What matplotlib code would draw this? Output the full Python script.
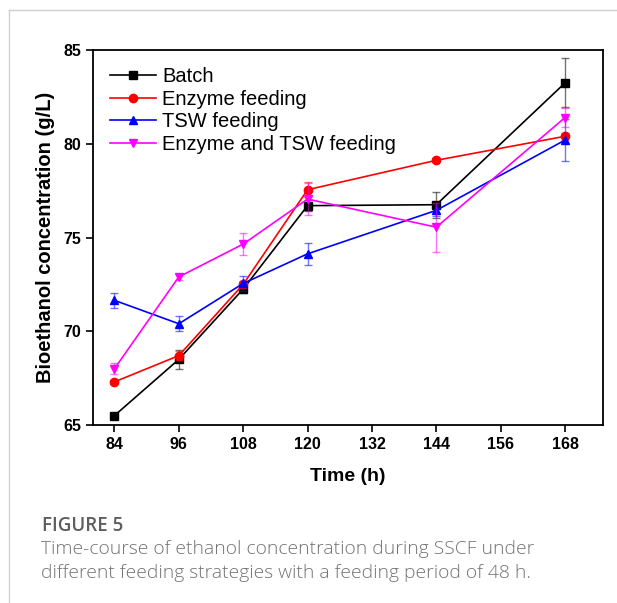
import matplotlib.pyplot as plt
from matplotlib.lines import Line2D

# datos
time = [84, 96, 108, 120, 144, 168]

batch = [65.5, 68.5, 72.25, 76.7, 76.75, 83.25]
batch_err = [0.15, 0.5, 0.2, 0.3, 0.7, 1.3]

enzyme = [67.3, 68.7, 72.5, 77.55, 79.12, 80.4]
enzyme_err = [0.1, 0.25, 0.2, 0.4, 0.1, 0.2]

tsw = [71.65, 70.4, 72.55, 74.13, 76.45, 80.2]
tsw_err = [0.4, 0.4, 0.4, 0.6, 0.3, 1.1]

both = [68.0, 72.9, 74.65, 77.05, 75.55, 81.4]
both_err = [0.3, 0.15, 0.6, 0.85, 1.3, 0.5]

labels = ["Batch", "Enzyme feeding", "TSW feeding", "Enzyme and TSW feeding"]
xticks = [84, 96, 108, 120, 132, 144, 156, 168]
yticks = [65, 70, 75, 80, 85]

plt.rcParams['font.family'] = ['Liberation Sans', 'DejaVu Sans']

fig = plt.figure(figsize=(6.17, 6.03), dpi=100)
ax = fig.add_axes([0.1507, 0.2952, 0.826, 0.6218])

series = [(batch, batch_err, "black", "s"),
          (enzyme, enzyme_err, "red", "o"),
          (tsw, tsw_err, "blue", "^"),
          (both, both_err, "#ff00ff", "v")]

for (y, e, c, m), lab in zip(series, labels):
    ax.errorbar(time, y, yerr=e, fmt="none", ecolor=c, alpha=0.55,
                elinewidth=1.0, capsize=3, capthick=1.0)
    ax.plot(time, y, color=c, marker=m, markersize=6, linewidth=1.2,
            label=lab)

ax.set_xlim(80, 175)
ax.set_ylim(65, 85)
ax.set_xticks(xticks)
ax.set_yticks(yticks)
ax.tick_params(direction="out", length=5, width=1.2, labelsize=11.5)
for t in ax.get_xticklabels() + ax.get_yticklabels():
    t.set_fontweight("bold")
for s in ax.spines.values():
    s.set_linewidth(1.3)

ax.set_xlabel("Time (h)", fontsize=14, fontweight="bold", labelpad=12)
ax.set_ylabel("Bioethanol concentration (g/L)", fontsize=14.5,
              fontweight="bold", labelpad=6)

ax.legend(loc="upper left", frameon=False, fontsize=14.5,
          handlelength=2.3, handletextpad=0.3, labelspacing=0.18,
          borderaxespad=0.45)

# marco gris de la tarjeta
fig.add_artist(Line2D([9 / 617, 9 / 617], [0, 1 - 10 / 603],
                      transform=fig.transFigure, color="#d0d0d0", lw=1))
fig.add_artist(Line2D([9 / 617, 1], [1 - 10 / 603, 1 - 10 / 603],
                      transform=fig.transFigure, color="#d0d0d0", lw=1))

# pie de figura
fig.text(42 / 617, 1 - 526 / 603, "FIGURE 5", fontsize=13.5,
         family="Open Sans", fontweight="semibold", color="#5e5e5e",
         va="center")
fig.text(41 / 617, 1 - 549 / 603,
         "Time-course of ethanol concentration during SSCF under",
         fontsize=13.9, family="Open Sans", fontweight="light",
         color="#737373", va="center")
fig.text(41 / 617, 1 - 573 / 603,
         "different feeding strategies with a feeding period of 48 h.",
         fontsize=13.9, family="Open Sans", fontweight="light",
         color="#737373", va="center")

plt.savefig("out.png", dpi=100)
